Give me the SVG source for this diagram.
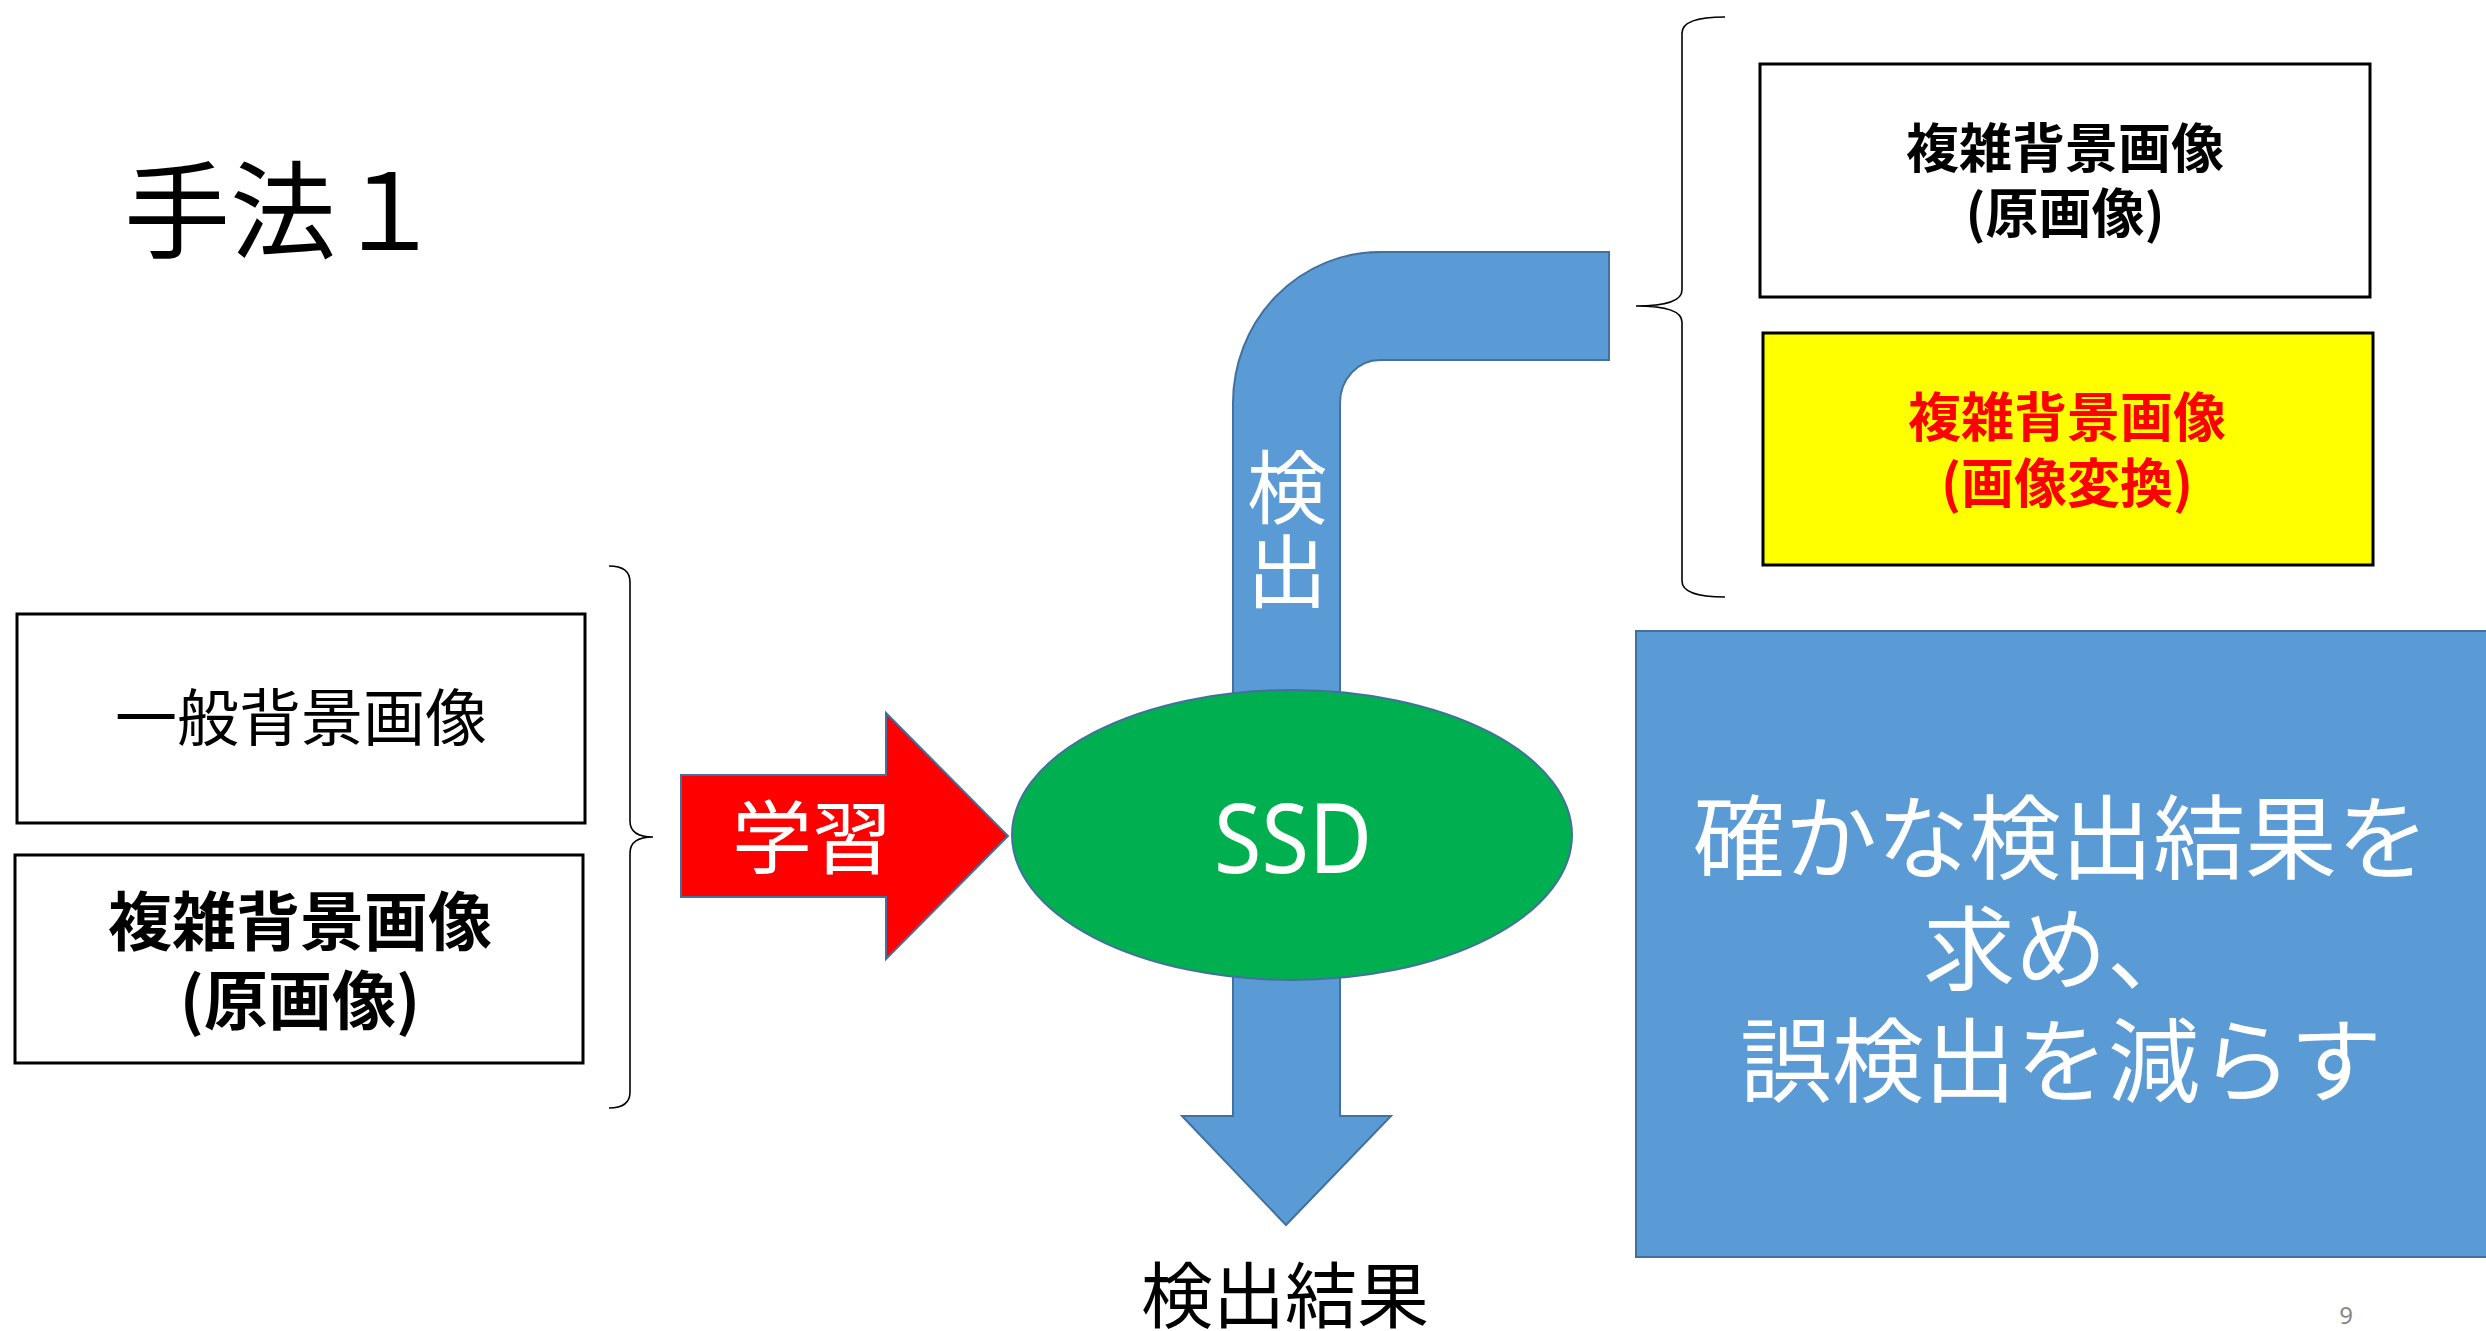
<svg xmlns="http://www.w3.org/2000/svg" width="2486" height="1331" viewBox="0 0 2486 1331">
<style>
.jp{font-family:"Noto Sans CJK JP","Noto Sans",sans-serif}
.bold{font-weight:bold}
.box{fill:#ffffff;stroke:#000000;stroke-width:3}
.blue{fill:#5B9BD5;stroke:#41719C;stroke-width:2}
.brace{fill:none;stroke:#000000;stroke-width:1.6}
.w{fill:#ffffff}
.c{text-anchor:middle}
</style>
<rect width="2486" height="1331" fill="#ffffff"/>
<g id="title">
<text x="124" y="250" class="jp" font-size="106" fill="#000">手法１</text>
</g>
<g id="connectors">
<path id="detect-arrow" class="blue" d="M1609,252 L1380,252 A147,151 0 0 0 1233,403 L1233,1116 L1182,1116 L1286,1225 L1391,1116 L1340,1116 L1340,403 A40,43 0 0 1 1380,360 L1609,360 Z"/>
<text class="jp c w" x="1287" y="517" font-size="80">検</text>
<text class="jp c w" x="1287" y="601" font-size="80">出</text>
<path id="learn-arrow" d="M681,775 L886,775 L886,713 L1008,836 L886,959 L886,897 L681,897 Z" fill="#FF0000" stroke="#41719C" stroke-width="2"/>
<text class="jp c w" x="812" y="867" font-size="80">学習</text>
<path class="brace" d="M609,566 Q630,566 630,582 L630,821 Q630,837 653,837 Q630,837 630,853 L630,1092 Q630,1108 609,1108"/>
<path class="brace" d="M1725,17 Q1682,17 1682,33 L1682,290 Q1682,306 1636,306 Q1682,306 1682,322 L1682,581 Q1682,597 1725,597"/>
<text class="jp c" x="1285" y="1322" font-size="72" fill="#000">検出結果</text>
</g>
<g id="ssd">
<ellipse cx="1292" cy="835" rx="280" ry="145" fill="#00B050" stroke="#41719C" stroke-width="2"/>
<text x="1293" y="873" class="c w" font-family="'Noto Sans',sans-serif" font-size="96" textLength="158" lengthAdjust="spacingAndGlyphs">SSD</text>
</g>
<g id="general-bg">
<rect class="box" x="17" y="614" width="568" height="209"/>
<text class="jp c" x="301" y="741" font-size="62" fill="#000">一般背景画像</text>
</g>
<g id="complex-bg-left">
<rect class="box" x="15" y="855" width="568" height="208"/>
<text class="jp c bold" x="300" y="945" font-size="64" fill="#000">複雑背景画像</text>
<text class="jp c bold" x="300" y="1024" font-size="64" fill="#000">(原画像)</text>
</g>
<g id="complex-bg-orig">
<rect class="box" x="1760" y="64" width="610" height="233"/>
<text class="jp c bold" x="2065" y="168" font-size="53" fill="#000">複雑背景画像</text>
<text class="jp c bold" x="2065" y="233" font-size="53" fill="#000">(原画像)</text>
</g>
<g id="complex-bg-trans">
<rect x="1763" y="333" width="610" height="232" fill="#FFFF00" stroke="#000" stroke-width="3"/>
<text class="jp c bold" x="2067" y="437" font-size="53" fill="#FF0000">複雑背景画像</text>
<text class="jp c bold" x="2067" y="503" font-size="53" fill="#FF0000">(画像変換)</text>
</g>
<g id="goal">
<rect class="blue" x="1636" y="631" width="860" height="626"/>
<text class="jp c w" x="2061" y="872" font-size="92">確かな検出結果を</text>
<text class="jp c w" x="2061" y="983" font-size="92">求め、</text>
<text class="jp c w" x="2061" y="1095" font-size="92">誤検出を減らす</text>
</g>
<g id="page">
<text x="2346" y="1324" class="c" font-family="'Noto Sans',sans-serif" font-size="24" fill="#888888">9</text>
</g>
</svg>
